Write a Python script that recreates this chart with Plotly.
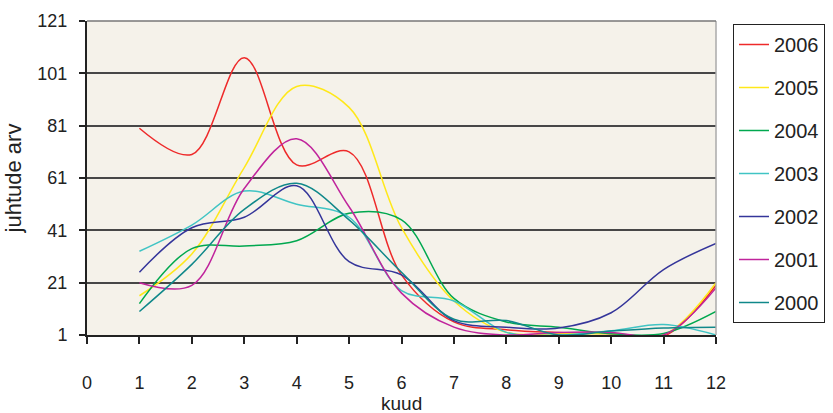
import plotly.graph_objects as go

months = [1, 2, 3, 4, 5, 6, 7, 8, 9, 10, 11, 12]
years = ["2006", "2005", "2004", "2003", "2002", "2001", "2000"]
v2006 = [80, 70, 107, 66, 71, 24, 6, 3, 2, 1.5, 0.5, 20]
v2005 = [16, 32, 65, 96, 88, 42, 14, 2, 1.5, 1.5, 1, 21]
v2004 = [13, 34, 35, 37, 47.5, 45, 15, 6, 4, 1.5, 1.6, 10]
v2003 = [33, 43, 56, 51, 46, 18, 14, 2, 1, 2.6, 5, 1]
v2002 = [25, 42, 46, 58, 29, 24, 6.5, 4, 3.7, 9.5, 26, 36]
v2001 = [21, 20, 57, 76, 50, 17, 4, 1, 2, 2, 1, 19]
v2000 = [10, 28, 49, 59, 45, 25, 7, 6.5, 1, 2.5, 3.7, 4]
series = [v2006, v2005, v2004, v2003, v2002, v2001, v2000]
colors = ["#EE2A2A", "#FFE81A", "#00A84F", "#40C4C4", "#34359A", "#C0249C", "#10888A"]

x_ticks = list(range(0, 13))
y_ticks = [1, 21, 41, 61, 81, 101, 121]
x_title = "kuud"
y_title = "juhtude arv"

fig = go.Figure()
for name, vals, col in zip(years, series, colors):
    fig.add_trace(go.Scatter(
        x=months, y=vals, name=name, mode="lines",
        line=dict(color=col, width=1.5, shape="spline", smoothing=1.0),
        legendgroup=name,
    ))

font_family = "Liberation Sans, Arial, sans-serif"
fig.update_layout(
    width=833, height=413,
    margin=dict(l=87, r=117, t=21, b=78),
    paper_bgcolor="white",
    plot_bgcolor="#F5F2EA",
    font=dict(family=font_family, size=18, color="#222"),
    showlegend=True,
    legend=dict(
        x=733 / 833, xanchor="left", xref="container",
        y=1 - 24 / 413, yanchor="top", yref="container",
        bordercolor="#222", borderwidth=1, bgcolor="white",
        font=dict(size=20), tracegroupgap=14, traceorder="grouped",
        maxheight=1.0,
    ),
    xaxis=dict(
        range=[0, 12], tickvals=x_ticks, ticks="outside", ticklen=7,
        tickcolor="#222", tickwidth=1.5, showline=True, linecolor="#222", linewidth=2,
        showgrid=False, zeroline=False, ticklabelstandoff=23, automargin=False,
    ),
    yaxis=dict(
        range=[1, 121], tickvals=y_ticks, ticks="outside", ticklen=6,
        tickcolor="#222", tickwidth=1.5, showline=True, linecolor="#222", linewidth=2,
        showgrid=True, gridcolor="#474747", gridwidth=1.5, zeroline=False,
        ticklabelstandoff=8, automargin=False,
        title=dict(text=y_title, standoff=10),
    ),
)
fig.add_annotation(text=x_title, xref="paper", yref="paper", x=0.5, y=-(403 - 335) / 314,
                   xanchor="center", yanchor="middle", showarrow=False,
                   font=dict(size=19, color="#222"))
# light grey frame on top/right of the plot area
fig.add_shape(type="line", xref="paper", yref="paper", x0=1, x1=1, y0=0, y1=1,
              line=dict(color="#AAAAAA", width=1.5))
fig.add_shape(type="line", xref="paper", yref="paper", x0=0, x1=1, y0=1, y1=1,
              line=dict(color="#777777", width=1.5))

fig.write_html("out.html")
